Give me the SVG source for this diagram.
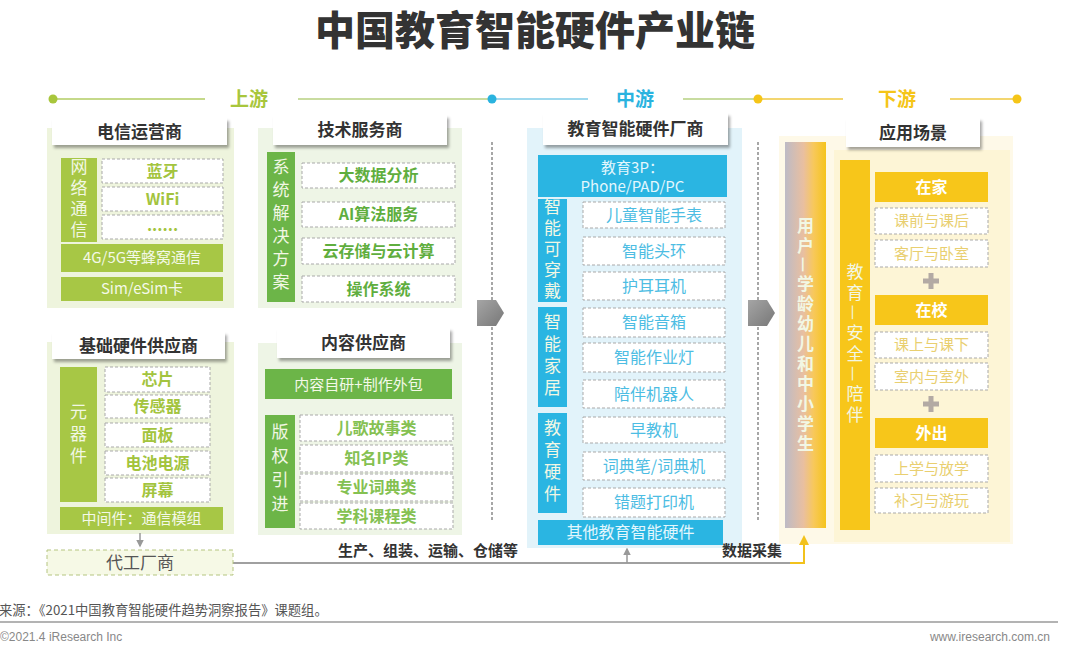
<svg xmlns="http://www.w3.org/2000/svg" width="1071" height="657" viewBox="0 0 1071 657">
<style>
text{font-family:"Noto Sans CJK SC","Noto Sans",sans-serif}
.ht{font-size:17px;font-weight:700;fill:#333;text-anchor:middle}
.hd{fill:#fff;filter:url(#sh)}
.db{fill:#fff;stroke:#a9a9a9;stroke-width:1;stroke-dasharray:3 2}
.vt{writing-mode:vertical-rl;text-anchor:middle;font-size:17px;fill:#f2f7e4}
.c{text-anchor:middle}
.yg{fill:#a7c745}
.gr{fill:#6cb548}
.bl{fill:#2ab5e2}
.ye{fill:#f7c61a}
.tyg{fill:#a3c43e;font-size:16px;font-weight:700;text-anchor:middle}
.tgr{fill:#5fae3e;font-size:16px;font-weight:700;text-anchor:middle}
.tlg{fill:#85c152;font-size:16px;font-weight:700;text-anchor:middle}
.tbl{fill:#4dbde3;font-size:16px;text-anchor:middle}
.tye{fill:#e9cf70;font-size:15px;text-anchor:middle}
.tw{fill:#f4f9e8;font-size:15px;text-anchor:middle}
.yh{fill:#fff;font-size:16px;font-weight:700;text-anchor:middle}
.ln{fill:none;stroke-width:2}
</style>
<defs>
<filter id="sh" x="-10%" y="-20%" width="125%" height="160%">
<feDropShadow dx="2" dy="3" stdDeviation="1.5" flood-color="#000" flood-opacity="0.35"/>
</filter>
<linearGradient id="ug" x1="0" y1="0" x2="1" y2="0">
<stop offset="0" stop-color="#bdbbc6"/>
<stop offset="0.45" stop-color="#e9bfa0"/>
<stop offset="0.7" stop-color="#f8c85a"/>
<stop offset="1" stop-color="#f5c41c"/>
</linearGradient>
<linearGradient id="ag" x1="0" y1="0" x2="1" y2="1">
<stop offset="0" stop-color="#a5a5a5"/>
<stop offset="1" stop-color="#777"/>
</linearGradient>
<marker id="mg" viewBox="0 0 10 10" refX="8" refY="5" markerWidth="5" markerHeight="5" orient="auto">
<path d="M0,0 L10,5 L0,10 z" fill="#999"/>
</marker>
<marker id="my" viewBox="0 0 10 10" refX="8" refY="5" markerWidth="5" markerHeight="5" orient="auto">
<path d="M0,0 L10,5 L0,10 z" fill="#f2c21c"/>
</marker>
</defs>
<rect width="1071" height="657" fill="#fff"/>

<text id="title" x="535" y="45" class="c" font-size="40" font-weight="900" fill="#333">中国教育智能硬件产业链</text>

<g id="stages">
<text x="249" y="106" class="c" font-size="19" font-weight="700" fill="#a8c63c">上游</text>
<text x="635" y="106" class="c" font-size="19" font-weight="700" fill="#2ab3df">中游</text>
<text x="897" y="106" class="c" font-size="19" font-weight="700" fill="#f5c518">下游</text>
</g>

<g id="panels">
<rect x="47" y="128" width="187" height="180" fill="#eef4dd"/>
<rect x="47" y="342" width="187" height="192" fill="#eef4dd"/>
<rect x="258" y="128" width="204" height="180" fill="#eef5e6"/>
<rect x="258" y="343" width="204" height="192" fill="#eef5e6"/>
<rect x="527" y="128" width="215" height="420" fill="#e2f3fa"/>
<rect x="779" y="136" width="234" height="408" fill="#fef9e8"/>
<rect x="834" y="150" width="176" height="392" fill="#fdf5d6"/>
</g>

<g id="connectors">
<path class="ln" d="M53,99 H205" stroke="#c5d98a"/>
<path class="ln" d="M298,99 H490" stroke="#c9dca0"/>
<path class="ln" d="M492,99 H588" stroke="#9fd9ee"/>
<path class="ln" d="M683,99 H757" stroke="#c8dca0"/>
<path class="ln" d="M758,99 H843" stroke="#f3d670"/>
<path class="ln" d="M950,99 H1017" stroke="#f3d670"/>
<circle cx="53" cy="99" r="4.5" fill="#a8c63c"/>
<circle cx="492" cy="99" r="4.5" fill="#2ab3df"/>
<circle cx="758" cy="99" r="4.5" fill="#f5c518"/>
<circle cx="1017" cy="99" r="4.5" fill="#f5c518"/>
<path d="M492,142 V520" stroke="#8a8a8a" stroke-width="1.5" stroke-dasharray="3 2" fill="none"/>
<path d="M758,142 V520" stroke="#8a8a8a" stroke-width="1.5" stroke-dasharray="3 2" fill="none"/>
<path d="M477,300 H496 L504,313 L496,326 H477 Z" fill="url(#ag)"/>
<path d="M748,300 H767 L775,313 L767,326 H748 Z" fill="url(#ag)"/>
<path d="M140,533 V546" stroke="#999" stroke-width="1.5" marker-end="url(#mg)"/>
<path class="ln" d="M233,563 H792" stroke="#a0a0a0"/>
<path d="M627,563 V549" stroke="#999" stroke-width="1.5" marker-end="url(#mg)"/>
<path class="ln" d="M790,563 H804 V537" stroke="#f2c21c" marker-end="url(#my)"/>
<text x="428" y="556" class="c" font-size="15" font-weight="700" fill="#333">生产、组装、运输、仓储等</text>
<text x="752" y="556" class="c" font-size="15" font-weight="700" fill="#333">数据采集</text>
</g>

<g id="telecom">
<rect class="hd" x="52" y="118" width="175" height="27"/>
<text class="ht" x="139.5" y="137.5">电信运营商</text>
<rect class="yg" x="61" y="158" width="36" height="84"/>
<text class="vt" x="79" y="200" letter-spacing="4">网络通信</text>
<rect class="db" x="102" y="159" width="121" height="24"/>
<text class="tyg" x="162.5" y="176.6">蓝牙</text>
<rect class="db" x="102" y="187" width="121" height="24"/>
<text class="tyg" x="162.5" y="204.6">WiFi</text>
<rect class="db" x="102" y="215" width="121" height="24"/>
<text class="tyg" x="162.5" y="231" font-weight="400" fill="#c8d6a0" font-size="12">......</text>
<rect class="yg" x="61" y="244" width="162" height="28"/>
<text class="tw" x="142" y="263.3">4G/5G等蜂窝通信</text>
<rect class="yg" x="61" y="277" width="162" height="24"/>
<text class="tw" x="142" y="294.3">Sim/eSim卡</text>
</g>

<g id="hardware">
<rect class="hd" x="52" y="332" width="173" height="27"/>
<text class="ht" x="138.5" y="351.5">基础硬件供应商</text>
<rect class="yg" x="60" y="367" width="37" height="135"/>
<text class="vt" x="78.5" y="436" letter-spacing="5">元器件</text>
<rect class="db" x="105" y="367" width="105" height="25"/>
<text class="tyg" x="157.5" y="385.1">芯片</text>
<rect class="db" x="105" y="395" width="105" height="23"/>
<text class="tyg" x="157.5" y="412.1">传感器</text>
<rect class="db" x="105" y="423" width="105" height="24"/>
<text class="tyg" x="157.5" y="440.6">面板</text>
<rect class="db" x="105" y="451" width="105" height="24"/>
<text class="tyg" x="157.5" y="468.6">电池电源</text>
<rect class="db" x="105" y="478" width="105" height="24"/>
<text class="tyg" x="157.5" y="495.6">屏幕</text>
<rect class="yg" x="60" y="507" width="163" height="23"/>
<text class="tw" x="141.5" y="523.8">中间件：通信模组</text>
</g>

<g id="oem">
<rect x="47" y="550" width="186" height="25" fill="#f6f9e6" stroke="#b5c580" stroke-width="1" stroke-dasharray="4 3"/>
<text x="140" y="568.5" class="c" font-size="17" fill="#555">代工厂商</text>
</g>

<g id="tech">
<rect class="hd" x="273" y="115" width="174" height="30"/>
<text class="ht" x="360" y="136">技术服务商</text>
<rect class="gr" x="267" y="152" width="28" height="150"/>
<text class="vt" x="281" y="227" letter-spacing="6" font-size="18">系统解决方案</text>
<rect class="db" x="302" y="163" width="153" height="25"/>
<text class="tgr" x="378.5" y="181.1">大数据分析</text>
<rect class="db" x="302" y="202" width="153" height="25"/>
<text class="tgr" x="378.5" y="220.1">AI算法服务</text>
<rect class="db" x="302" y="238" width="153" height="26"/>
<text class="tgr" x="378.5" y="256.6">云存储与云计算</text>
<rect class="db" x="302" y="276" width="153" height="26"/>
<text class="tgr" x="378.5" y="294.6">操作系统</text>
</g>

<g id="content">
<rect class="hd" x="277" y="328" width="173" height="30"/>
<text class="ht" x="363.5" y="349">内容供应商</text>
<rect class="gr" x="265" y="369" width="187" height="30"/>
<text class="tw" x="358.5" y="389.6" font-size="16">内容自研+制作外包</text>
<rect class="gr" x="265" y="415" width="30" height="113"/>
<text class="vt" x="280" y="471.5" letter-spacing="7" font-size="18">版权引进</text>
<rect class="db" x="300" y="415" width="153" height="26"/>
<text class="tlg" x="376.5" y="433.6">儿歌故事类</text>
<rect class="db" x="300" y="445" width="153" height="27"/>
<text class="tlg" x="376.5" y="464.1">知名IP类</text>
<rect class="db" x="300" y="474" width="153" height="27"/>
<text class="tlg" x="376.5" y="493.1">专业词典类</text>
<rect class="db" x="300" y="503" width="153" height="26"/>
<text class="tlg" x="376.5" y="521.6">学科课程类</text>
</g>

<g id="midstream">
<rect class="hd" x="543" y="113" width="185" height="32"/>
<text class="ht" x="635.5" y="135">教育智能硬件厂商</text>
<rect class="bl" x="538" y="155" width="189" height="42"/>
<text x="632.5" y="173" class="c" font-size="15" fill="#e3f7fd">教育3P：</text>
<text x="632.5" y="192" class="c" font-size="15" fill="#e3f7fd">Phone/PAD/PC</text>
<rect class="bl" x="538" y="199" width="29" height="103"/>
<text class="vt" x="552.5" y="250.5" letter-spacing="4" fill="#e6f7fd">智能可穿戴</text>
<rect class="db" x="583" y="202" width="142" height="26"/>
<text class="tbl" x="654" y="220.6">儿童智能手表</text>
<rect class="db" x="583" y="237" width="142" height="28"/>
<text class="tbl" x="654" y="256.6">智能头环</text>
<rect class="db" x="583" y="272" width="142" height="28"/>
<text class="tbl" x="654" y="291.6">护耳耳机</text>
<rect class="bl" x="538" y="307" width="29" height="100"/>
<text class="vt" x="552.5" y="357" letter-spacing="5" fill="#e6f7fd">智能家居</text>
<rect class="db" x="583" y="308" width="142" height="29"/>
<text class="tbl" x="654" y="328.1">智能音箱</text>
<rect class="db" x="583" y="343" width="142" height="29"/>
<text class="tbl" x="654" y="363.1">智能作业灯</text>
<rect class="db" x="583" y="380" width="142" height="28"/>
<text class="tbl" x="654" y="399.6">陪伴机器人</text>
<rect class="bl" x="538" y="413" width="29" height="100"/>
<text class="vt" x="552.5" y="463" letter-spacing="5" fill="#e6f7fd">教育硬件</text>
<rect class="db" x="583" y="417" width="142" height="26"/>
<text class="tbl" x="654" y="435.6">早教机</text>
<rect class="db" x="583" y="452" width="142" height="28"/>
<text class="tbl" x="654" y="471.6">词典笔/词典机</text>
<rect class="db" x="583" y="488" width="142" height="29"/>
<text class="tbl" x="654" y="508.1">错题打印机</text>
<rect class="bl" x="538" y="520" width="185" height="25"/>
<text x="630.5" y="538.1" class="c" font-size="16" fill="#e3f7fd">其他教育智能硬件</text>
</g>

<g id="downstream">
<rect class="hd" x="846" y="118" width="134" height="29"/>
<text class="ht" x="913" y="138.5">应用场景</text>
<rect x="785" y="142" width="41" height="386" fill="url(#ug)"/>
<text class="vt" x="805.5" y="336" letter-spacing="3" font-weight="700" fill="#fff">用户—学龄幼儿和中小学生</text>
<rect class="ye" x="840" y="160" width="30" height="370"/>
<text class="vt" x="855" y="345" letter-spacing="4" font-size="16" fill="#fbeeb8">教育—安全—陪伴</text>
<rect class="ye" x="875" y="172" width="113" height="30"/>
<text class="yh" x="931.5" y="192.6">在家</text>
<rect class="db" x="875" y="208" width="113" height="26" stroke="#e6d68a" fill="#fffdf4"/>
<text class="tye" x="931.5" y="226.2">课前与课后</text>
<rect class="db" x="875" y="240" width="113" height="27" stroke="#e6d68a" fill="#fffdf4"/>
<text class="tye" x="931.5" y="258.7">客厅与卧室</text>
<path d="M923,278.5 h16 v5 h-16z M928.5,273 h5 v16 h-5z" fill="#b3aaa4"/>
<rect class="ye" x="875" y="295" width="113" height="30"/>
<text class="yh" x="931.5" y="315.6">在校</text>
<rect class="db" x="875" y="332" width="113" height="26" stroke="#e6d68a" fill="#fffdf4"/>
<text class="tye" x="931.5" y="350.2">课上与课下</text>
<rect class="db" x="875" y="363" width="113" height="27" stroke="#e6d68a" fill="#fffdf4"/>
<text class="tye" x="931.5" y="381.7">室内与室外</text>
<path d="M923,401.5 h16 v5 h-16z M928.5,396 h5 v16 h-5z" fill="#b3aaa4"/>
<rect class="ye" x="875" y="418" width="113" height="30"/>
<text class="yh" x="931.5" y="438.6">外出</text>
<rect class="db" x="875" y="455" width="113" height="27" stroke="#e6d68a" fill="#fffdf4"/>
<text class="tye" x="931.5" y="473.7">上学与放学</text>
<rect class="db" x="875" y="488" width="113" height="25" stroke="#e6d68a" fill="#fffdf4"/>
<text class="tye" x="931.5" y="505.7">补习与游玩</text>
</g>

<g id="footer">
<text x="-1" y="615" font-size="13.3" fill="#555">来源：《2021中国教育智能硬件趋势洞察报告》课题组。</text>
<path d="M0,622 H1058" stroke="#9a9a9a" stroke-width="1.5"/>
<text x="0" y="641" font-size="12" fill="#888" style="font-family:'Liberation Sans',sans-serif">©2021.4 iResearch Inc</text>
<text x="1050" y="641" font-size="12" fill="#888" text-anchor="end" style="font-family:'Liberation Sans',sans-serif">www.iresearch.com.cn</text>
</g>
</svg>
